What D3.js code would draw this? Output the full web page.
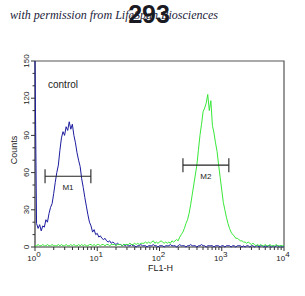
<!DOCTYPE html>
<html>
<head>
<meta charset="utf-8">
<script src="https://cdn.jsdelivr.net/npm/d3@7"></script>
<style>
  html, body { margin: 0; padding: 0; background: #fff; }
  svg { display: block; }
</style>
</head>
<body>
<svg id="chart" width="305" height="296"></svg>
<script>
// histogram channels: one bin every 1/40 decade, from 10^0 to 10^4
const binsPerDecade = 40;

// control (blue) counts per channel
const controlCounts = [
  160, 19, 15, 18, 13, 17, 16, 22, 20, 27,
  32, 35, 43, 52, 60, 66, 78, 88, 93, 90,
  97, 94, 101, 95, 99, 90, 84, 76, 70, 65,
  55, 48, 40, 33, 26, 20, 17, 12, 14, 10,
  11, 8, 9, 7, 6, 7, 5, 4, 5, 3,
  4, 3, 2, 3, 2, 2, 1, 2, 1, 2,
  1, 1, 2, 1, 1, 0, 1, 1, 2, 1,
  1, 1, 0, 1, 1, 1, 2, 1, 1, 0,
  1, 1, 1, 0, 1, 1, 1, 2, 1, 1,
  1, 0, 1, 2, 1, 1, 1, 0, 1, 1,
  2, 1, 1, 1, 0, 1, 1, 2, 1, 1,
  0, 1, 1, 1, 1, 0, 1, 1, 1, 0,
  1, 1, 0, 1, 1, 1, 0, 1, 1, 0,
  1, 1, 1, 0, 1, 0, 1, 1, 0, 1,
  1, 0, 1, 1, 0, 1, 1, 0, 1, 0,
  1, 1, 0, 1, 0, 1, 1, 0, 1, 0,
  1
];

// stained sample (green) counts per channel
const sampleCounts = [
  1, 1, 2, 1, 1, 2, 1, 1, 2, 1,
  1, 2, 1, 1, 1, 2, 1, 2, 1, 1,
  2, 1, 1, 2, 1, 2, 1, 1, 2, 1,
  2, 1, 2, 1, 1, 2, 2, 1, 2, 1,
  2, 2, 1, 2, 2, 1, 2, 2, 1, 2,
  2, 2, 1, 2, 2, 2, 1, 2, 2, 2,
  2, 3, 2, 2, 3, 2, 3, 2, 3, 3,
  3, 4, 3, 4, 3, 4, 5, 3, 4, 3,
  4, 5, 4, 3, 4, 3, 4, 3, 5, 4,
  5, 6, 5, 8, 10, 12, 15, 19, 22, 27,
  34, 42, 50, 58, 66, 78, 90, 99, 109, 112,
  116, 123, 110, 118, 98, 92, 84, 77, 66, 56,
  46, 36, 30, 24, 19, 15, 12, 10, 9, 7,
  7, 6, 5, 5, 4, 4, 3, 4, 3, 2,
  3, 2, 1, 2, 1, 2, 1, 1, 2, 1,
  1, 2, 1, 1, 1, 2, 1, 1, 1, 1,
  1
];

// gates: [low FL1-H, high FL1-H, count level]
const gateM1 = [1.45, 7.9, 57];
const gateM2 = [238, 1300, 66];

const yTicks = [0, 30, 60, 90, 120, 150];
const yMinorTicks = [10, 20, 40, 50, 70, 80, 100, 110, 130, 140];
const xDecades = [0, 1, 2, 3, 4];

const svg = d3.select('#chart');
const font = '"Liberation Sans", Arial, sans-serif';

const plot = { left: 35, right: 284, top: 61, bottom: 247 };

const x = d3.scaleLog().domain([1, 10000]).range([plot.left, plot.right]);
const y = d3.scaleLinear().domain([0, 150]).range([plot.bottom, plot.top]).clamp(true);

// watermark and title (the title sits over the watermark, as in the source)
svg.append('text')
  .attr('x', 10)
  .attr('y', 19)
  .attr('font-family', '"Liberation Serif", "DejaVu Serif", serif')
  .attr('font-style', 'italic')
  .attr('font-size', 12)
  .attr('fill', '#1c1c3a')
  .attr('textLength', 208)
  .attr('lengthAdjust', 'spacingAndGlyphs')
  .text('with permission from LifeSpan Biosciences');

svg.append('text')
  .attr('x', 149)
  .attr('y', 23)
  .attr('text-anchor', 'middle')
  .attr('font-family', font)
  .attr('font-weight', 'bold')
  .attr('font-size', 25)
  .attr('fill', '#1a1a22')
  .text('293');

// frame
svg.append('path')
  .attr('d', 'M' + plot.left + ',' + plot.top + 'H' + plot.right + 'V' + plot.bottom)
  .attr('fill', 'none')
  .attr('stroke', '#555')
  .attr('stroke-width', 1.2);

// y axis
const yAxis = svg.append('g');
yAxis.append('line')
  .attr('x1', plot.left).attr('x2', plot.left)
  .attr('y1', plot.top).attr('y2', plot.bottom)
  .attr('stroke', '#333').attr('stroke-width', 1.2);

yAxis.selectAll('line.major')
  .data(yTicks)
  .enter()
  .append('line')
  .attr('class', 'major')
  .attr('x1', plot.left - 4).attr('x2', plot.left)
  .attr('y1', d => y(d)).attr('y2', d => y(d))
  .attr('stroke', '#333');

yAxis.selectAll('line.minor')
  .data(yMinorTicks)
  .enter()
  .append('line')
  .attr('class', 'minor')
  .attr('x1', plot.left - 2.5).attr('x2', plot.left)
  .attr('y1', d => y(d)).attr('y2', d => y(d))
  .attr('stroke', '#333');

yAxis.selectAll('text')
  .data(yTicks)
  .enter()
  .append('text')
  .attr('transform', d => 'translate(29,' + y(d) + ') rotate(-90)')
  .attr('text-anchor', 'middle')
  .attr('font-family', font)
  .attr('font-size', 8)
  .attr('fill', '#222')
  .text(d => d);

svg.append('text')
  .attr('transform', 'translate(17,150) rotate(-90)')
  .attr('text-anchor', 'middle')
  .attr('font-family', font)
  .attr('font-size', 9)
  .attr('fill', '#222')
  .text('Counts');

// x axis (log, decades with minor ticks)
const xAxis = svg.append('g');
xAxis.append('line')
  .attr('x1', plot.left).attr('x2', plot.right)
  .attr('y1', plot.bottom).attr('y2', plot.bottom)
  .attr('stroke', '#333').attr('stroke-width', 1.2);

const xMinor = [];
xDecades.slice(0, -1).forEach(function(e) {
  for (let k = 2; k <= 9; k++) xMinor.push(k * Math.pow(10, e));
});

xAxis.selectAll('line.minor')
  .data(xMinor)
  .enter()
  .append('line')
  .attr('class', 'minor')
  .attr('x1', d => x(d)).attr('x2', d => x(d))
  .attr('y1', plot.bottom).attr('y2', plot.bottom + 3)
  .attr('stroke', '#333');

xAxis.selectAll('line.major')
  .data(xDecades)
  .enter()
  .append('line')
  .attr('class', 'major')
  .attr('x1', d => x(Math.pow(10, d))).attr('x2', d => x(Math.pow(10, d)))
  .attr('y1', plot.bottom).attr('y2', plot.bottom + 4)
  .attr('stroke', '#333');

const xLabels = xAxis.selectAll('text')
  .data(xDecades)
  .enter()
  .append('text')
  .attr('x', d => x(Math.pow(10, d)) - 1)
  .attr('y', 261)
  .attr('text-anchor', 'middle')
  .attr('font-family', font)
  .attr('font-size', 8)
  .attr('fill', '#222');
xLabels.append('tspan').text('10');
xLabels.append('tspan')
  .attr('dy', -4)
  .attr('font-size', 8)
  .text(d => d);

svg.append('text')
  .attr('x', (plot.left + plot.right) / 2 + 1)
  .attr('y', 271)
  .attr('text-anchor', 'middle')
  .attr('font-family', font)
  .attr('font-size', 9)
  .attr('fill', '#222')
  .text('FL1-H');

// histograms
const line = d3.line()
  .x((d, i) => x(Math.pow(10, i / binsPerDecade)))
  .y(d => y(d));

svg.append('path')
  .datum(controlCounts)
  .attr('d', line)
  .attr('fill', 'none')
  .attr('stroke', '#1c1ca0')
  .attr('stroke-width', 1);

svg.append('path')
  .datum(sampleCounts)
  .attr('d', line)
  .attr('fill', 'none')
  .attr('stroke', '#38e838')
  .attr('stroke-width', 1);

// labels and gates
svg.append('text')
  .attr('x', 48)
  .attr('y', 88)
  .attr('font-family', font)
  .attr('font-size', 10)
  .attr('fill', '#222')
  .text('control');

function drawGate(g, name) {
  const x0 = x(g[0]), x1 = x(g[1]), yy = y(g[2]);
  const grp = svg.append('g').attr('stroke', '#222').attr('stroke-width', 1.1);
  grp.append('line').attr('x1', x0).attr('x2', x1).attr('y1', yy).attr('y2', yy);
  grp.append('line').attr('x1', x0).attr('x2', x0).attr('y1', yy - 7).attr('y2', yy + 7);
  grp.append('line').attr('x1', x1).attr('x2', x1).attr('y1', yy - 7).attr('y2', yy + 7);
  svg.append('text')
    .attr('x', (x0 + x1) / 2)
    .attr('y', yy + 14)
    .attr('text-anchor', 'middle')
    .attr('font-family', font)
    .attr('font-size', 8)
    .attr('fill', '#222')
    .text(name);
}
drawGate(gateM1, 'M1');
drawGate(gateM2, 'M2');
</script>
</body>
</html>
